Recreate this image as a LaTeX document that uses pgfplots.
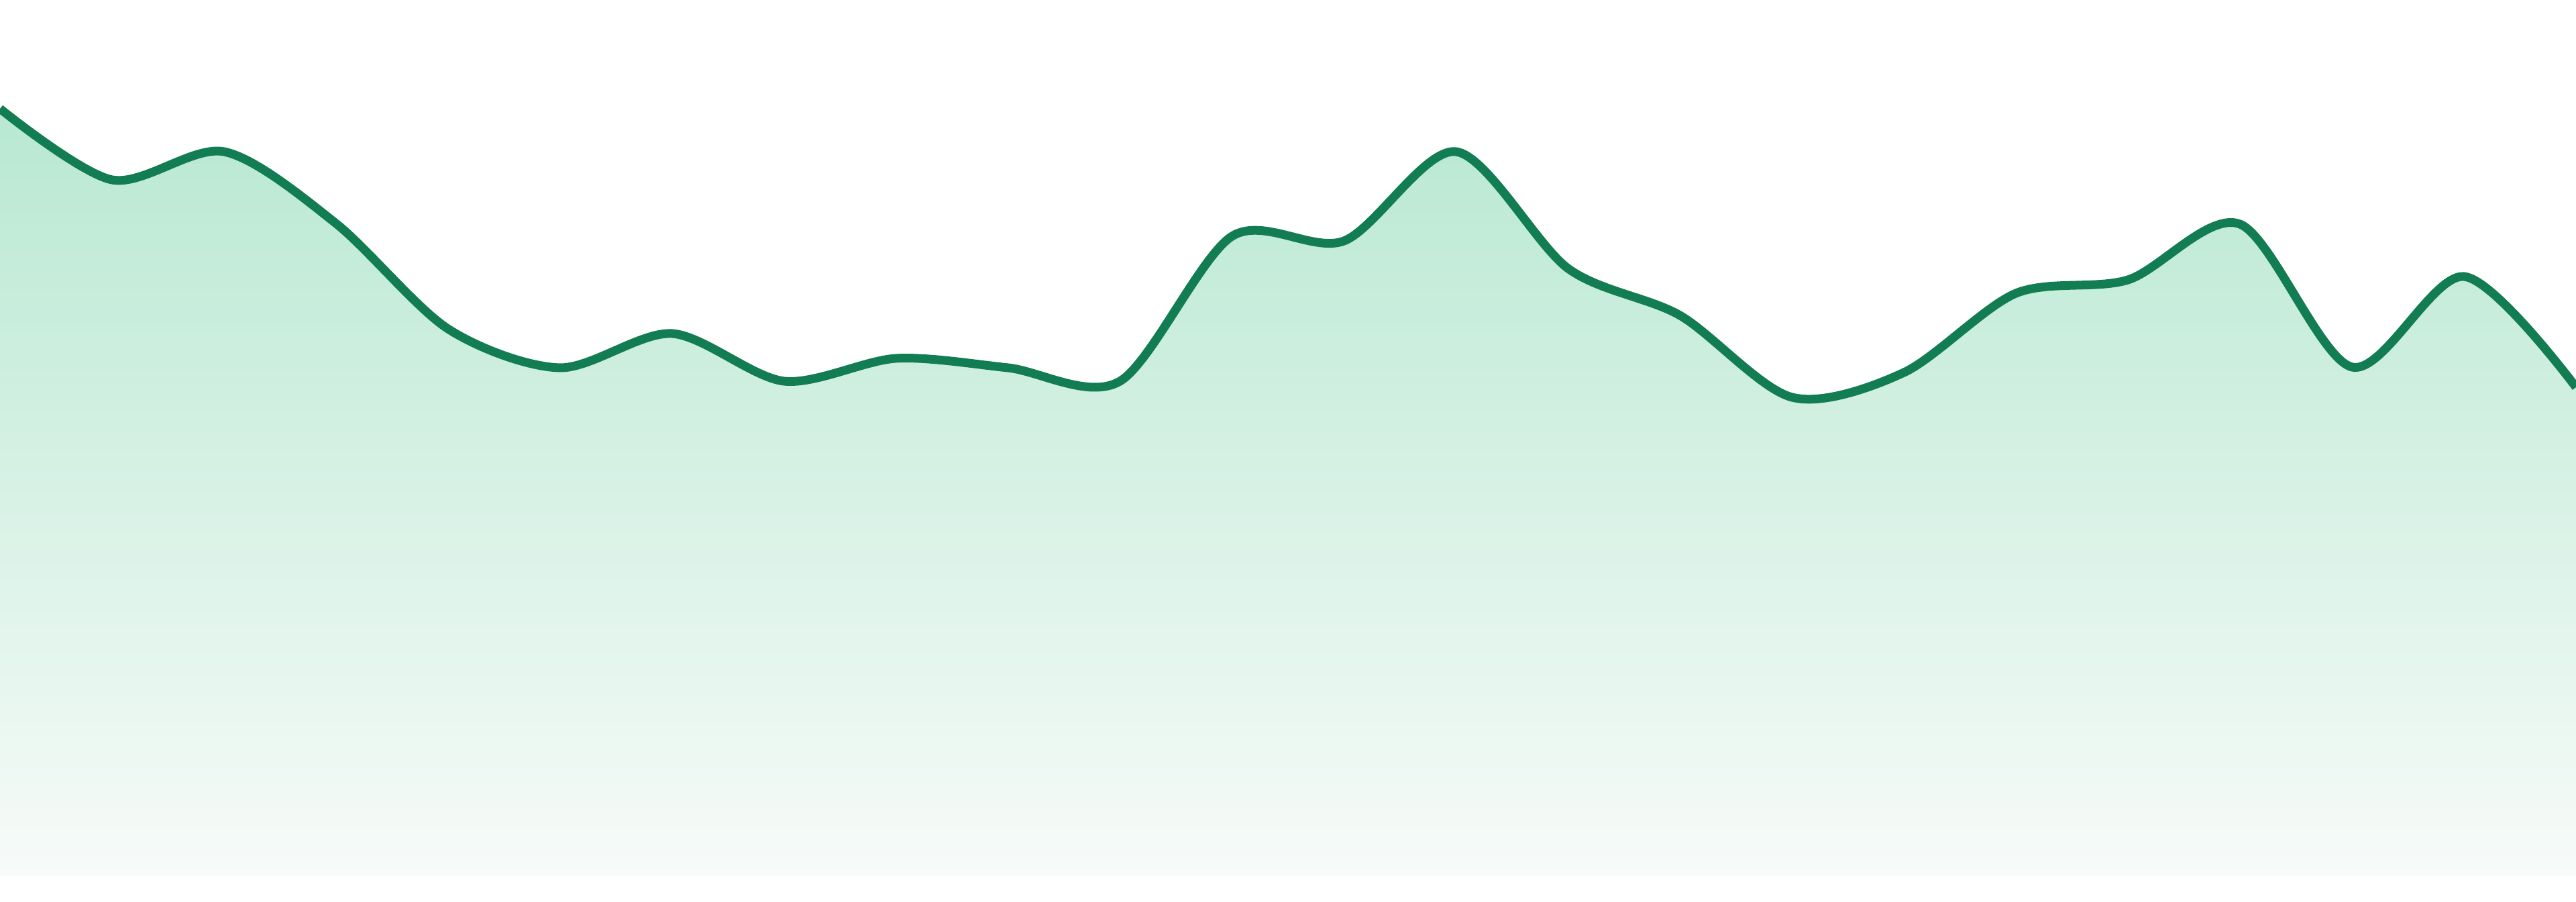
\documentclass[border=0pt]{standalone}
\usepackage{pgfplots}
\usepackage{pgfplotstable}
\pgfplotsset{compat=1.18}
\usepgfplotslibrary{fillbetween}
\definecolor{linec}{RGB}{18,124,82}
\definecolor{topc}{RGB}{184,232,210}
\definecolor{botc}{RGB}{247,251,249}
\pgfplotstableread{
x y
0 1143
1 1037
2 1079
3 972
4 815
5 757
6 808
7 737
8 771
9 757
10 737
11 953
12 946
13 1079
14 905
15 835
16 713
17 750
18 868
19 888
20 971
21 758
22 893
23 728
}\datatable
\pgfplotstableread{
x y
0 0
23 0
}\basetable
\begin{document}
\begin{tikzpicture}
\begin{axis}[at={(0,0)}, anchor=south west, scale only axis,
  width=1152pt, height=403.2pt,
  xmin=0, xmax=23, ymin=-39, ymax=1305,
  axis line style={draw=none}, xtick=\empty, ytick=\empty]
\addplot[draw=none, name path=top, smooth, tension=0.5] table {\datatable};
\addplot[draw=none, name path=base] table {\basetable};
\addplot[top color=topc, bottom color=botc, draw=none] fill between[of=top and base];
\addplot[linec, line width=3.9pt, smooth, tension=0.5] table {\datatable};
\end{axis}
\end{tikzpicture}
\end{document}
